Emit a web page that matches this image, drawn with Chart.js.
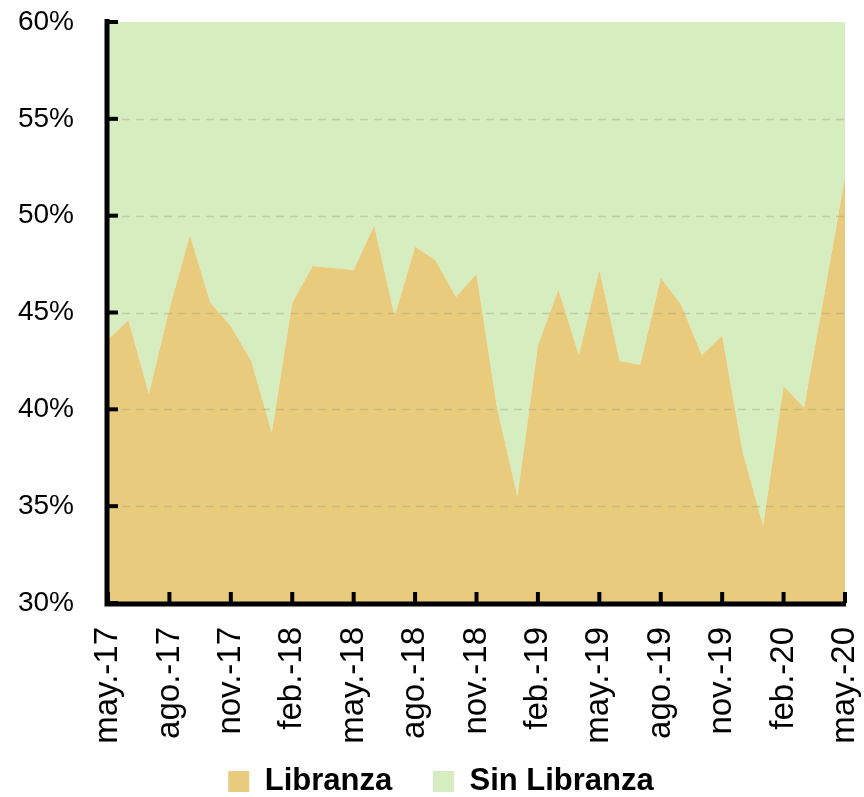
<!DOCTYPE html>
<html>
<head>
<meta charset="utf-8">
<script src="https://cdn.jsdelivr.net/npm/chart.js@4.4.1/dist/chart.umd.min.js"></script>
<style>
  html, body { margin: 0; padding: 0; background: #fff; }
  #chart { display: block; }
</style>
</head>
<body>
<canvas id="chart" width="864" height="797"></canvas>
<script>
// meses (may-17 .. may-20)
const meses = ["may.-17", "jun.-17", "jul.-17", "ago.-17", "sep.-17", "oct.-17", "nov.-17", "dic.-17",
    "ene.-18", "feb.-18", "mar.-18", "abr.-18", "may.-18", "jun.-18", "jul.-18", "ago.-18", "sep.-18",
    "oct.-18", "nov.-18", "dic.-18", "ene.-19", "feb.-19", "mar.-19", "abr.-19", "may.-19", "jun.-19",
    "jul.-19", "ago.-19", "sep.-19", "oct.-19", "nov.-19", "dic.-19", "ene.-20", "feb.-20", "mar.-20",
    "abr.-20", "may.-20"];

// participación libranza (%)
const libranza = [43.6, 44.6, 40.8, 45.2, 49.0, 45.5, 44.3, 42.5, 38.8, 45.5, 47.4, 47.3, 47.2,
    49.5, 44.8, 48.4, 47.7, 45.8, 47.0, 40.1, 35.5, 43.3, 46.2, 42.8, 47.2, 42.5, 42.3, 46.8,
    45.4, 42.8, 43.8, 37.8, 34.0, 41.2, 40.1, 46.0, 52.0];

// sin libranza = resto hasta 100
const sinLibranza = libranza.map(v => +(100 - v).toFixed(1));

const yTicks = [30, 35, 40, 45, 50, 55, 60];

// grilla punteada encima del area + ejes gruesos y ticks hacia adentro (como excel)
const innerTicks = {
    id: 'innerTicks',
    afterDatasetsDraw(chart) {
        const ctx = chart.ctx;
        const x = chart.scales.x;
        const y = chart.scales.y;
        ctx.save();
        ctx.strokeStyle = 'rgba(150, 150, 120, 0.35)';
        ctx.lineWidth = 1.5;
        ctx.setLineDash([8, 6]);
        yTicks.forEach(v => {
            if (v === 30 || v === 60) return;
            const py = Math.round(y.getPixelForValue(v)) + 0.5;
            ctx.beginPath();
            ctx.moveTo(x.left, py);
            ctx.lineTo(x.right, py);
            ctx.stroke();
        });
        ctx.setLineDash([]);
        ctx.strokeStyle = '#000';
        ctx.lineWidth = 4;
        yTicks.forEach(v => {
            const py = y.getPixelForValue(v);
            ctx.beginPath();
            ctx.moveTo(x.left - 2, py);
            ctx.lineTo(x.left + 10, py);
            ctx.stroke();
        });
        meses.forEach((m, i) => {
            if (i % 3 !== 0) return;
            const px = x.getPixelForValue(i);
            ctx.beginPath();
            ctx.moveTo(px, y.bottom);
            ctx.lineTo(px, y.bottom - 11);
            ctx.stroke();
        });
        // ejes
        ctx.lineWidth = 5;
        ctx.beginPath();
        ctx.moveTo(x.left - 1, y.top - 3);
        ctx.lineTo(x.left - 1, y.bottom + 1);
        ctx.lineTo(x.right + 1, y.bottom + 1);
        ctx.stroke();
        ctx.restore();
    }
};

const myChart = new Chart(document.getElementById("chart"), {
    type: 'line',
    data: {
        labels: meses,
        datasets: [{
            label: "Libranza",
            data: libranza,
            backgroundColor: "#E8CB7D",
            borderColor: "#E8CB7D",
            borderWidth: 0,
            pointRadius: 0,
            tension: 0,
            fill: 'origin'
        }, {
            label: "Sin Libranza",
            data: sinLibranza,
            backgroundColor: "#D5EDBF",
            borderColor: "#D5EDBF",
            borderWidth: 0,
            pointRadius: 0,
            tension: 0,
            fill: '-1'
        }]
    },
    plugins: [innerTicks],
    options: {
        responsive: false,
        animation: false,
        layout: {
            padding: { left: 18, right: 0, top: 0, bottom: -10 }
        },
        scales: {
            x: {
                type: 'category',
                offset: false,
                grid: {
                    display: false,
                    drawTicks: false
                },
                border: { display: false },
                afterFit: function (axis) {
                    axis.height = 161;
                    axis.paddingRight = 19;
                },
                ticks: {
                    autoSkip: false,
                    minRotation: 90,
                    maxRotation: 90,
                    padding: 24,
                    color: '#000',
                    font: { family: "'Liberation Sans', sans-serif", size: 33 },
                    callback: function (val, i) {
                        return i % 3 === 0 ? meses[i] : '';
                    }
                }
            },
            y: {
                stacked: true,
                min: 30,
                max: 60,
                grid: {
                    display: false,
                    drawTicks: false
                },
                border: { display: false },
                afterBuildTicks: function (axis) {
                    axis.ticks = yTicks.map(v => ({ value: v }));
                },
                afterFit: function (axis) {
                    axis.width = 90;
                    axis.paddingTop = 22;
                },
                ticks: {
                    padding: 34,
                    color: '#000',
                    font: { family: "'Liberation Sans', sans-serif", size: 28 },
                    callback: v => v + '%'
                }
            }
        },
        plugins: {
            legend: {
                position: 'bottom',
                labels: {
                    boxWidth: 21,
                    boxHeight: 21,
                    padding: 2,
                    color: '#000',
                    font: { family: "'Liberation Sans', sans-serif", size: 31, weight: 'bold' },
                    // separar los items como en el original
                    generateLabels: function (chart) {
                        const items = Chart.defaults.plugins.legend.labels.generateLabels(chart);
                        items[0].text = items[0].text + '\u2003\u2005';
                        return items;
                    }
                }
            },
            tooltip: { enabled: false }
        }
    }
});
</script>
</body>
</html>
